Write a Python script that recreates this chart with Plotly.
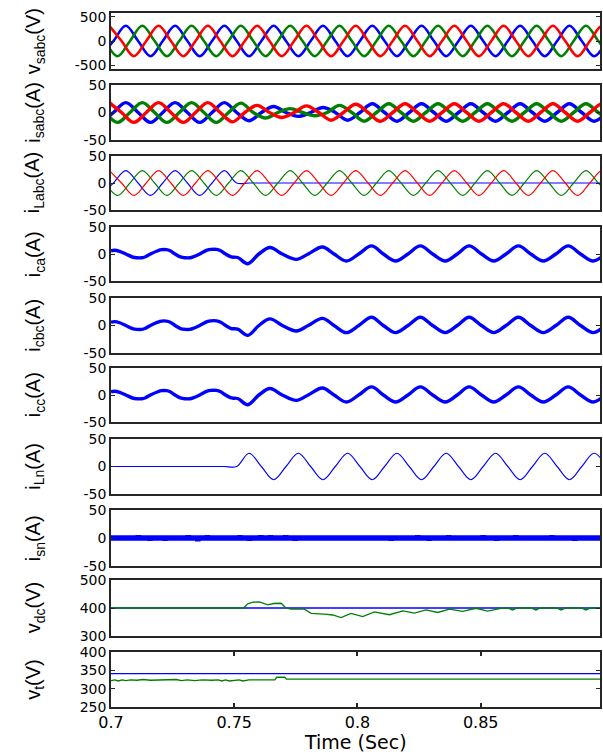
import numpy as np
import plotly.graph_objects as go

# ---------------- data ----------------
QUARTER = 0.005                  # quarter-period sampling (50 Hz)
T0_A, T0_B, T0_C = 0.696, 0.6977, 0.6993   # first sample time of each phase grid
N_PTS = 42

# source voltages (V), sampled at peaks / zero-crossings of each phase
vsa = [-315, 0, 315, 0, -315, 0, 315, 0, -315, 0, 315, 0, -315, 0, 315, 0, -315, 0, 315, 0,
       -315, 0, 315, 0, -315, 0, 315, 0, -315, 0, 315, 0, -315, 0, 315, 0, -315, 0, 315, 0, -315, 0]
vsb = [0, -315, 0, 315, 0, -315, 0, 315, 0, -315, 0, 315, 0, -315, 0, 315, 0, -315, 0, 315,
       0, -315, 0, 315, 0, -315, 0, 315, 0, -315, 0, 315, 0, -315, 0, 315, 0, -315, 0, 315, 0, -315]
vsc = [315, 0, -315, 0, 315, 0, -315, 0, 315, 0, -315, 0, 315, 0, -315, 0, 315, 0, -315, 0,
       315, 0, -315, 0, 315, 0, -315, 0, 315, 0, -315, 0, 315, 0, -315, 0, 315, 0, -315, 0, 315, 0]

# source currents (A)
isa = [-18, 0, 18, 0, -18, 0, 18, 0, -18, 0, 18, 0, -15, 0, 11, 0, -7, 0, 9, 0,
       -14, 0, 16, 0, -16, 0, 16, 0, -16, 0, 16, 0, -16, 0, 16, 0, -16, 0, 16, 0, -16, 0]
isb = [0, -18, 0, 18, 0, -18, 0, 18, 0, -18, 0, 17, 0, -10, 0, 7, 0, -6, 0, 13,
       0, -16, 0, 16, 0, -16, 0, 16, 0, -16, 0, 16, 0, -16, 0, 16, 0, -16, 0, 16, 0, -16]
isc = [18, 0, -18, 0, 18, 0, -18, 0, 18, 0, -17, 0, 13, 0, -9, 0, 12, 0, -14, 0,
       15, 0, -16, 0, 16, 0, -16, 0, 16, 0, -16, 0, 16, 0, -16, 0, 16, 0, -16, 0, 16, 0]

# load currents (A)
iLa = [-23, 0, 23, 0, -23, 0, 23, 0, -23, 0, 23, 0, 0, 0, 0, 0, 0, 0, 0, 0,
       0, 0, 0, 0, 0, 0, 0, 0, 0, 0, 0, 0, 0, 0, 0, 0, 0, 0, 0, 0, 0, 0]
iLb = [0, -23, 0, 23, 0, -23, 0, 23, 0, -23, 0, 23, 0, -23, 0, 23, 0, -23, 0, 23,
       0, -23, 0, 23, 0, -23, 0, 23, 0, -23, 0, 23, 0, -23, 0, 23, 0, -23, 0, 23, 0, -23]
iLc = [23, 0, -23, 0, 23, 0, -23, 0, 23, 0, -23, 0, 23, 0, -23, 0, 23, 0, -23, 0,
       23, 0, -23, 0, 23, 0, -23, 0, 23, 0, -23, 0, 23, 0, -23, 0, 23, 0, -23, 0, 23, 0]

# load neutral current (A), phase-a grid
iLn = [0, 0, 0, 0, 0, 0, 0, 0, 0, 0, 0, 0, 24, 0, -24, 0, 24, 0, -24, 0,
       24, 0, -24, 0, 24, 0, -24, 0, 24, 0, -24, 0, 24, 0, -24, 0, 24, 0, -24, 0, 24, 0]

# compensator current (A) - same waveform in all three phases
ic_t = [0.700, 0.7015, 0.7035, 0.706, 0.709, 0.7105, 0.7125, 0.714, 0.716, 0.719, 0.7205,
        0.7225, 0.724, 0.726, 0.7285, 0.730, 0.732, 0.7335, 0.736, 0.739, 0.7405, 0.7428,
        0.7445, 0.7465, 0.7488, 0.7514, 0.7555, 0.760, 0.7645, 0.7695, 0.7752, 0.780,
        0.7858, 0.7905, 0.7955, 0.8005, 0.8057, 0.8105, 0.8155, 0.8205, 0.8255, 0.8305,
        0.8356, 0.8405, 0.8453, 0.8503, 0.8553, 0.8603, 0.8653, 0.8703, 0.8754, 0.8805,
        0.8855, 0.8905, 0.8956, 0.9005]
ica = [6, 7, 5, 0, -6, -7, -7, -5, 0, 6, 8,
       8, 6, 0, -6, -7, -7, -5, 0, 7, 8.5, 8.5,
       6, 0, -5.5, -6.5, -18, 0, 12, 0, -10, 0,
       13, 0, -13, 0, 15, 0, -13, 0, 15, 0,
       -13, 0, 15, 0, -13, 0, 15, 0, -13, 0,
       15, 0, -13, 0]
icb = ica
icc = ica

# source neutral current (A): thick ripple band around 0 with spikes
isn_spike_t = [0.7111, 0.7158, 0.7220, 0.7313, 0.7352, 0.7391, 0.7523, 0.7562, 0.7608,
               0.7647, 0.7709, 0.7748, 0.8137, 0.8245, 0.8292, 0.8370, 0.8510, 0.8564,
               0.8642, 0.8789, 0.8882]
isn_spike_v = [5, -5, -5, 5, -6, 5, 5, -5, 5, 5, 5, -5, -5, 5, -5, 5, 5, -5, 5, 5, -5]

# DC bus voltage (V)
vdc_ref_t = [0.70, 0.90]
vdc_ref = [400, 400]
vdc_t = [0.700, 0.7537, 0.7555, 0.7575, 0.7602, 0.7625, 0.7636, 0.7660, 0.7690, 0.7710,
         0.7730, 0.7784, 0.7812, 0.7866, 0.7900, 0.7933, 0.7974, 0.8021, 0.8069, 0.8129,
         0.8185, 0.8231, 0.8278, 0.8325, 0.8373, 0.8427, 0.8481, 0.8528, 0.8582, 0.8610,
         0.8629, 0.8648, 0.8677, 0.8705, 0.8724, 0.8743, 0.8778, 0.8807, 0.8826, 0.8845,
         0.8880, 0.8908, 0.8927, 0.8946, 0.8990]
vdc = [400, 400, 415, 421, 422, 414, 411, 416, 417, 400,
       396, 396, 381, 378, 375, 366, 381, 369, 386, 376,
       390, 382, 393, 384, 396, 388, 399, 389, 399, 400,
       393, 400, 400, 400, 393, 400, 400, 400, 393, 400,
       400, 400, 393, 400, 400]

# terminal voltage (V)
vt_ref_t = [0.70, 0.90]
vt_ref = [341, 341]
vt_t = [0.700, 0.7015, 0.703, 0.7045, 0.706, 0.708, 0.7105, 0.713, 0.716, 0.720, 0.7245,
        0.7265, 0.7285, 0.731, 0.734, 0.737, 0.741, 0.7435, 0.745, 0.7465, 0.748,
        0.752, 0.7535, 0.756, 0.762, 0.7665, 0.7672, 0.7705, 0.7712, 0.775, 0.900]
vt = [322, 324, 321, 324, 322, 324, 323, 325, 323, 323, 323,
      325, 322, 324, 322, 324, 323, 324, 321, 324, 321,
      324, 321, 324, 324, 324, 331, 331, 326, 326, 326]

X_RANGE = [0.7, 0.8984]
X_TICKS = [0.7, 0.75, 0.8, 0.85]
X_TICKTEXT = ["0.7", "0.75", "0.8", "0.85"]

# ---------------- figure ----------------
BLUE, GREEN, RED = "#0000FF", "#008000", "#FF0000"
W, H = 603, 756
ML, MR, MT, MB = 111, 1, 13, 49
PH = H - MT - MB

# panel pixel extents (top, bottom)
panels = [(13, 69), (85, 140), (156, 210), (227, 281), (298, 353),
          (368, 422), (439, 494), (510, 566), (580, 636), (652, 707)]

def grid(t0):
    return t0 + QUARTER * np.arange(N_PTS)

ta, tb, tc = grid(T0_A), grid(T0_B), grid(T0_C)

fig = go.Figure()

def add(row, x, y, color, width, shape="linear"):
    sfx = "" if row == 1 else str(row)
    fig.add_trace(go.Scatter(x=x, y=y, mode="lines", xaxis="x" + sfx, yaxis="y" + sfx,
                             line=dict(color=color, width=width, shape=shape),
                             showlegend=False, hoverinfo="skip"))

# 1 vsabc
add(1, ta, vsa, BLUE, 2.6, "spline")
add(1, tb, vsb, GREEN, 2.6, "spline")
add(1, tc, vsc, RED, 2.6, "spline")
# 2 isabc
add(2, ta, isa, BLUE, 3.4, "spline")
add(2, tb, isb, GREEN, 3.4, "spline")
add(2, tc, isc, RED, 3.4, "spline")
# 3 iLabc
add(3, ta, iLa, BLUE, 1.1, "spline")
add(3, tb, iLb, GREEN, 1.1, "spline")
add(3, tc, iLc, RED, 1.1, "spline")
# 4-6 ica, icb, icc
add(4, ic_t, ica, BLUE, 3.4, "spline")
add(5, ic_t, icb, BLUE, 3.4, "spline")
add(6, ic_t, icc, BLUE, 3.4, "spline")
# 7 iLn
add(7, ta, iLn, BLUE, 1.1, "spline")
# 8 isn
isn_t, isn_v = [X_RANGE[0]], [0]
for ts, vs in zip(isn_spike_t, isn_spike_v):
    isn_t += [ts - 0.0001, ts, ts + 0.0001]
    isn_v += [0, vs, 0]
isn_t.append(0.9)
isn_v.append(0)
add(8, isn_t, isn_v, BLUE, 5.5)
# 9 vdc
add(9, vdc_ref_t, vdc_ref, BLUE, 1.3)
add(9, vdc_t, vdc, GREEN, 1.3)
# 10 vt
add(10, vt_ref_t, vt_ref, BLUE, 1.4)
add(10, vt_t, vt, GREEN, 1.4)

yspecs = [
    ([-580, 580], [-500, 0, 500], ["-500", "0", "500"], "v<sub>sabc</sub>(V)"),
    ([-50, 50], [-50, 0, 50], ["-50", "0", "50"], "i<sub>sabc</sub>(A)"),
    ([-50, 50], [-50, 0, 50], ["-50", "0", "50"], "i<sub>Labc</sub>(A)"),
    ([-50, 50], [-50, 0, 50], ["-50", "0", "50"], "i<sub>ca</sub>(A)"),
    ([-50, 50], [-50, 0, 50], ["-50", "0", "50"], "i<sub>cbc</sub>(A)"),
    ([-50, 50], [-50, 0, 50], ["-50", "0", "50"], "i<sub>cc</sub>(A)"),
    ([-50, 50], [-50, 0, 50], ["-50", "0", "50"], "i<sub>Ln</sub>(A)"),
    ([-50, 50], [-50, 0, 50], ["-50", "0", "50"], "i<sub>sn</sub>(A)"),
    ([300, 500], [300, 400, 500], ["300", "400", "500"], "v<sub>dc</sub>(V)"),
    ([250, 400], [250, 300, 350, 400], ["250", "300", "350", "400"], "v<sub>t</sub>(V)"),
]

FRAME = "#262626"
TICKFONT = dict(family="DejaVu Sans", size=14, color="black")
layout = dict(width=W, height=H, margin=dict(l=ML, r=MR, t=MT, b=MB),
              paper_bgcolor="white", plot_bgcolor="white", showlegend=False)
annotations = []
for i, ((top, bot), (yr, tv, tt, title)) in enumerate(zip(panels, yspecs)):
    n = i + 1
    sfx = "" if n == 1 else str(n)
    d0 = (H - MB - bot) / PH
    d1 = (H - MB - top) / PH
    last = (n == 10)
    xa = dict(
        domain=[0, 1], anchor="y" + sfx, range=X_RANGE, showgrid=False, zeroline=False,
        showline=True, linecolor=FRAME, linewidth=1.5, mirror="ticks" if last else True,
        ticks="inside" if last else "", ticklen=4, tickwidth=1.5, tickcolor=FRAME,
        showticklabels=last)
    if last:
        xa.update(tickvals=X_TICKS, ticktext=X_TICKTEXT,
                  tickfont=dict(family="DejaVu Sans", size=16, color="black"))
    layout["xaxis" + sfx] = xa
    layout["yaxis" + sfx] = dict(
        domain=[d0, d1], anchor="x" + sfx, range=yr, showgrid=False, zeroline=False,
        showline=True, linecolor=FRAME, linewidth=1.5, mirror="ticks",
        ticks="inside", ticklen=4, tickwidth=1, tickcolor=FRAME,
        tickvals=tv, ticktext=tt, tickfont=TICKFONT)
    annotations.append(dict(
        text=title, xref="paper", yref="paper", x=(34 - ML) / (W - ML - MR), y=(d0 + d1) / 2,
        xanchor="center", yanchor="middle", textangle=-90, showarrow=False,
        font=dict(family="Liberation Sans", size=20, color="black")))

annotations.append(dict(
    text="Time (Sec)", xref="paper", yref="paper", x=0.5, y=(H - MB - 742) / PH,
    xanchor="center", yanchor="middle", showarrow=False,
    font=dict(family="DejaVu Sans", size=19, color="black")))
layout["annotations"] = annotations
fig.update_layout(**layout)

fig.write_html("out.html", config={"displayModeBar": False},
               post_script="document.body.style.margin='0';document.body.style.overflow='hidden';")
